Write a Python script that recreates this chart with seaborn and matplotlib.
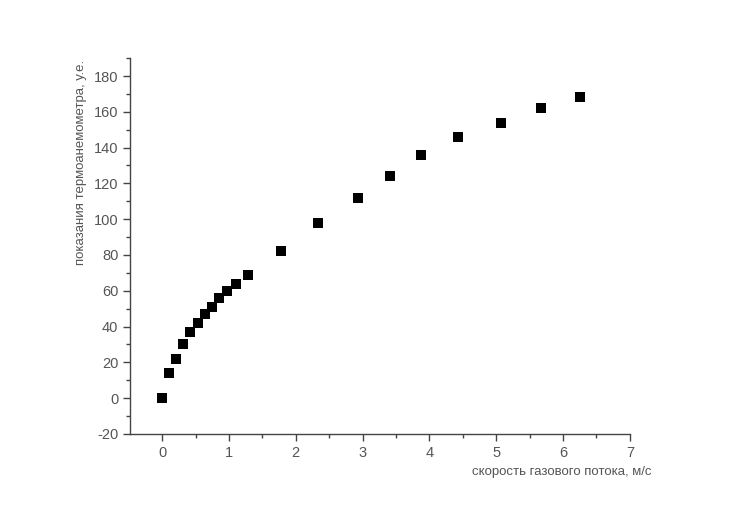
import numpy as np
import pandas as pd
import matplotlib
matplotlib.use('Agg')
import matplotlib.pyplot as plt
import seaborn as sns
from matplotlib.ticker import MultipleLocator

# data
speed = [0, 0.10, 0.20, 0.31, 0.42, 0.54, 0.64, 0.74, 0.85, 0.97, 1.10, 1.28,
         1.78, 2.33, 2.93, 3.41, 3.88, 4.43, 5.07, 5.67, 6.26]
reading = [0, 14, 22, 30, 37, 42, 47, 51, 56, 60, 64, 69,
           82, 98, 112, 124, 136, 146, 154, 162, 168]

df = pd.DataFrame({'speed': speed, 'reading': reading})

sns.set_style("ticks")
plt.rcParams['font.family'] = ['Liberation Sans', 'DejaVu Sans']
plt.rcParams['axes.unicode_minus'] = False

fig = plt.figure(figsize=(7.35, 5.19), dpi=100)
ax = fig.add_axes([0.177, 0.164, 0.680, 0.724])

sns.scatterplot(data=df, x='speed', y='reading', marker='s', s=42,
                color='black', edgecolor='black', linewidth=0, ax=ax)

ax.set_xlim(-0.48, 7)
ax.set_ylim(-20, 190)
ax.xaxis.set_major_locator(MultipleLocator(1))
ax.xaxis.set_minor_locator(MultipleLocator(0.5))
ax.yaxis.set_minor_locator(MultipleLocator(10))
ax.set_yticks(np.arange(-20, 181, 20))

sns.despine(ax=ax)
for s in ['left', 'bottom']:
    ax.spines[s].set_color('#444444')
    ax.spines[s].set_linewidth(1.0)
ax.tick_params(which='major', direction='out', length=5, width=1,
               color='#444444', labelsize=10.5, labelcolor='#555555')
ax.tick_params(which='minor', direction='out', length=3, width=1, color='#444444')

ax.set_xlabel('скорость газового потока, м/с', fontsize=9.5, color='#555555', loc='right')
ax.set_ylabel('показания термоанемометра, у.е.', fontsize=9.5, color='#555555', loc='top')
ax.xaxis.set_label_coords(1.044, -0.085)
ax.yaxis.set_label_coords(-0.086, 0.995)

fig.savefig('out.png', dpi=100)
